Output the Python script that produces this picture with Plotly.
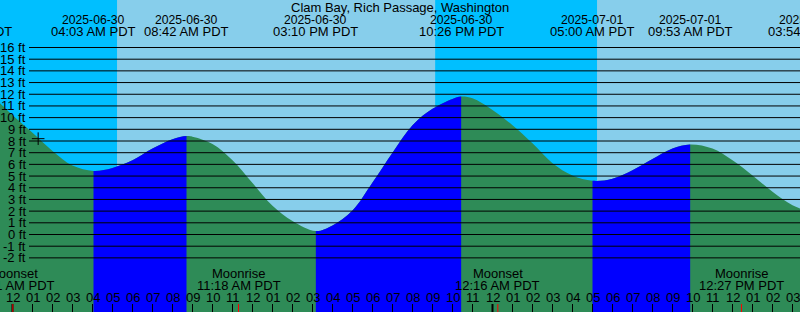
import plotly.graph_objects as go
from datetime import datetime

# ---------------- data ----------------
TITLE = "Clam Bay, Rich Passage, Washington"
TZ = "PDT"
BASE_DAY = datetime(2025, 6, 30)

# hourly tide readings (hours after 2025-06-30 00:00 PDT), feet
reading_hours = [-1, 0, 1, 2, 3, 5, 6, 7, 8, 9, 10, 11, 12, 13, 14,
                 16, 17, 18, 19, 20, 21, 22, 23, 24, 25, 26, 27, 28,
                 30, 31, 32, 33, 35, 36, 37, 38, 39]
reading_levels = [11.7, 10.2, 8.7, 7.15, 5.9, 5.7, 6.35, 7.35, 8.15, 8.37, 7.75, 6.35, 4.4, 2.45, 1.15,
                  0.77, 2.05, 4.45, 7.0, 9.35, 10.75, 11.6, 11.65, 10.65, 9.35, 7.8, 6.1, 5.05,
                  4.78, 5.5, 6.45, 7.35, 7.35, 6.35, 5.05, 3.65, 2.5]

# high / low tide events
extreme_kinds = ["High", "Low", "High", "Low", "High", "Low", "High", "Low"]
extreme_dates = ["2025-06-29", "2025-06-30", "2025-06-30", "2025-06-30",
                 "2025-06-30", "2025-07-01", "2025-07-01", "2025-07-01"]
extreme_times = ["09:50 PM", "04:03 AM", "08:42 AM", "03:10 PM",
                 "10:26 PM", "05:00 AM", "09:53 AM", "03:54 PM"]
extreme_levels = [12.4, 5.44, 8.42, 0.29, 11.8, 4.6, 7.7, 1.95]

# sun events
sun_kinds = ["Sunset", "Sunrise", "Sunset", "Sunrise", "Sunset"]
sun_dates = ["2025-06-29", "2025-06-30", "2025-06-30", "2025-07-01", "2025-07-01"]
sun_times = ["09:08 PM", "05:14 AM", "09:08 PM", "05:14 AM", "09:08 PM"]

# moon events
moon_kinds = ["Moonset", "Moonrise", "Moonset", "Moonrise"]
moon_dates = ["2025-06-30", "2025-06-30", "2025-07-01", "2025-07-01"]
moon_times = ["12:01 AM", "11:18 AM", "12:16 AM", "12:27 PM"]

# current time marker
now_date, now_time, now_level = "2025-06-30", "01:17 AM", 8.2

y_ticks = list(range(-2, 17))
hour_ticks = list(range(0, 40))

# ---------------- style ----------------
W, H = 800, 312
X_RANGE = [-0.625, 39.375]
Y_RANGE = [-6.631, 20.064]
NIGHT, DAY = "#00BFFF", "#87CEEB"
FLOOD, EBB = "#0000FF", "#2E8B57"
FAM = "Liberation Sans, Arial, sans-serif"
FONT = dict(family=FAM, size=13, color="black")
DATE_FONT = dict(family=FAM, size=12.2, color="black")
BASE_LEVEL = -10


def hrs(d, t):
    return (datetime.strptime(f"{d} {t}", "%Y-%m-%d %I:%M %p") - BASE_DAY).total_seconds() / 3600


def frac(h):
    return (h - X_RANGE[0]) / (X_RANGE[1] - X_RANGE[0])


def xpos(h):
    if X_RANGE[0] <= h <= X_RANGE[1]:
        return dict(x=h, xref="x")
    return dict(x=frac(h), xref="paper")


def ypx(px):
    return 1 - px / H


ext_h = [hrs(d, t) for d, t in zip(extreme_dates, extreme_times)]
pts = sorted(zip(reading_hours + ext_h, reading_levels + extreme_levels))
cx = [p[0] for p in pts]
cy = [p[1] for p in pts]

fig = go.Figure()


def add_water(xaxis, color):
    fig.add_trace(go.Scatter(x=[cx[0], cx[-1]], y=[BASE_LEVEL, BASE_LEVEL], mode="lines",
                             line=dict(width=0, color=color), xaxis=xaxis, yaxis="y",
                             hoverinfo="skip", showlegend=False))
    fig.add_trace(go.Scatter(x=cx, y=cy, mode="lines",
                             line=dict(width=0, shape="spline", color=color),
                             fill="tonexty", fillcolor=color, xaxis=xaxis, yaxis="y",
                             hoverinfo="skip", showlegend=False))


# ebb colour everywhere on main axes
add_water("x", EBB)

# flood intervals drawn on overlay axes clipped to each interval
layout_axes = {}
k = 2
for i in range(len(ext_h) - 1):
    if extreme_kinds[i] == "Low" and extreme_kinds[i + 1] == "High":
        a = max(ext_h[i], X_RANGE[0])
        b = min(ext_h[i + 1], X_RANGE[1])
        if b <= a:
            continue
        layout_axes[f"xaxis{k}"] = dict(range=[a, b], domain=[frac(a), frac(b)],
                                        visible=False, anchor="y", fixedrange=True)
        add_water(f"x{k}", FLOOD)
        k += 1

# now marker
nh = hrs(now_date, now_time)
fig.add_trace(go.Scatter(x=[nh], y=[now_level], mode="markers",
                         marker=dict(symbol="cross-thin", size=9, line=dict(width=1, color="black")),
                         hoverinfo="skip", showlegend=False))

shapes = []
# sky day/night background
sun_h = [hrs(d, t) for d, t in zip(sun_dates, sun_times)]
edges = [X_RANGE[0] - 5] + sun_h + [X_RANGE[1] + 5]
kinds = ["Sunrise" if sun_kinds[0] == "Sunset" else "Sunset"] + sun_kinds
for i in range(len(edges) - 1):
    col = DAY if kinds[i] == "Sunrise" else NIGHT
    shapes.append(dict(type="rect", xref="x", yref="paper", x0=edges[i], x1=edges[i + 1],
                       y0=0, y1=1, fillcolor=col, line=dict(width=0), layer="below"))

# horizontal foot lines
for v in y_ticks:
    shapes.append(dict(type="line", xref="paper", yref="y", x0=29 / W, x1=1, y0=v, y1=v,
                       line=dict(color="black", width=1), layer="above"))

# hour ticks
for h in hour_ticks:
    shapes.append(dict(type="line", xref="x", yref="paper", x0=h, x1=h, y0=0, y1=8 / H,
                       line=dict(color="black", width=2 if h % 24 == 0 else 1), layer="above"))

# moon ticks
moon_h = [hrs(d, t) for d, t in zip(moon_dates, moon_times)]
for h in moon_h:
    shapes.append(dict(type="line", xref="x", yref="paper", x0=h, x1=h, y0=0, y1=8 / H,
                       line=dict(color="red", width=1), layer="above"))

ann = []
ann.append(dict(text=TITLE, x=0.5, xref="paper", y=ypx(7.5), yref="paper",
                xanchor="center", yanchor="middle", showarrow=False, font=FONT))
for h, d, t in zip(ext_h, extreme_dates, extreme_times):
    ann.append(dict(text=d, **xpos(h), y=ypx(19.5), yref="paper", xanchor="center",
                    yanchor="middle", showarrow=False, font=DATE_FONT))
    ann.append(dict(text=f"{t} {TZ}", **xpos(h), y=ypx(31.5), yref="paper", xanchor="center",
                    yanchor="middle", showarrow=False, font=FONT))
for v in y_ticks:
    ann.append(dict(text=f"{v} ft", x=27.5 / W, xref="paper", y=v, yref="y",
                    xanchor="right", yanchor="middle", showarrow=False, font=FONT))
for h, kd, t in zip(moon_h, moon_kinds, moon_times):
    ann.append(dict(text=kd, **xpos(h), y=ypx(273.5), yref="paper", xanchor="center",
                    yanchor="middle", showarrow=False, font=FONT))
    ann.append(dict(text=f"{t} {TZ}", **xpos(h), y=ypx(285.5), yref="paper", xanchor="center",
                    yanchor="middle", showarrow=False, font=FONT))
for h in hour_ticks:
    lab = f"{(h % 12) or 12:02d}"
    ann.append(dict(text=lab, **xpos(h), y=ypx(297.5), yref="paper", xanchor="center",
                    yanchor="middle", showarrow=False, font=FONT))

fig.update_layout(
    width=W, height=H, autosize=False,
    margin=dict(l=0, r=0, t=0, b=0, pad=0),
    paper_bgcolor=DAY, plot_bgcolor="rgba(0,0,0,0)",
    xaxis=dict(range=X_RANGE, domain=[0, 1], visible=False, fixedrange=True),
    yaxis=dict(range=Y_RANGE, domain=[0, 1], visible=False, fixedrange=True),
    shapes=shapes, annotations=ann, showlegend=False,
    **layout_axes,
)

fig.write_html("out.html")
